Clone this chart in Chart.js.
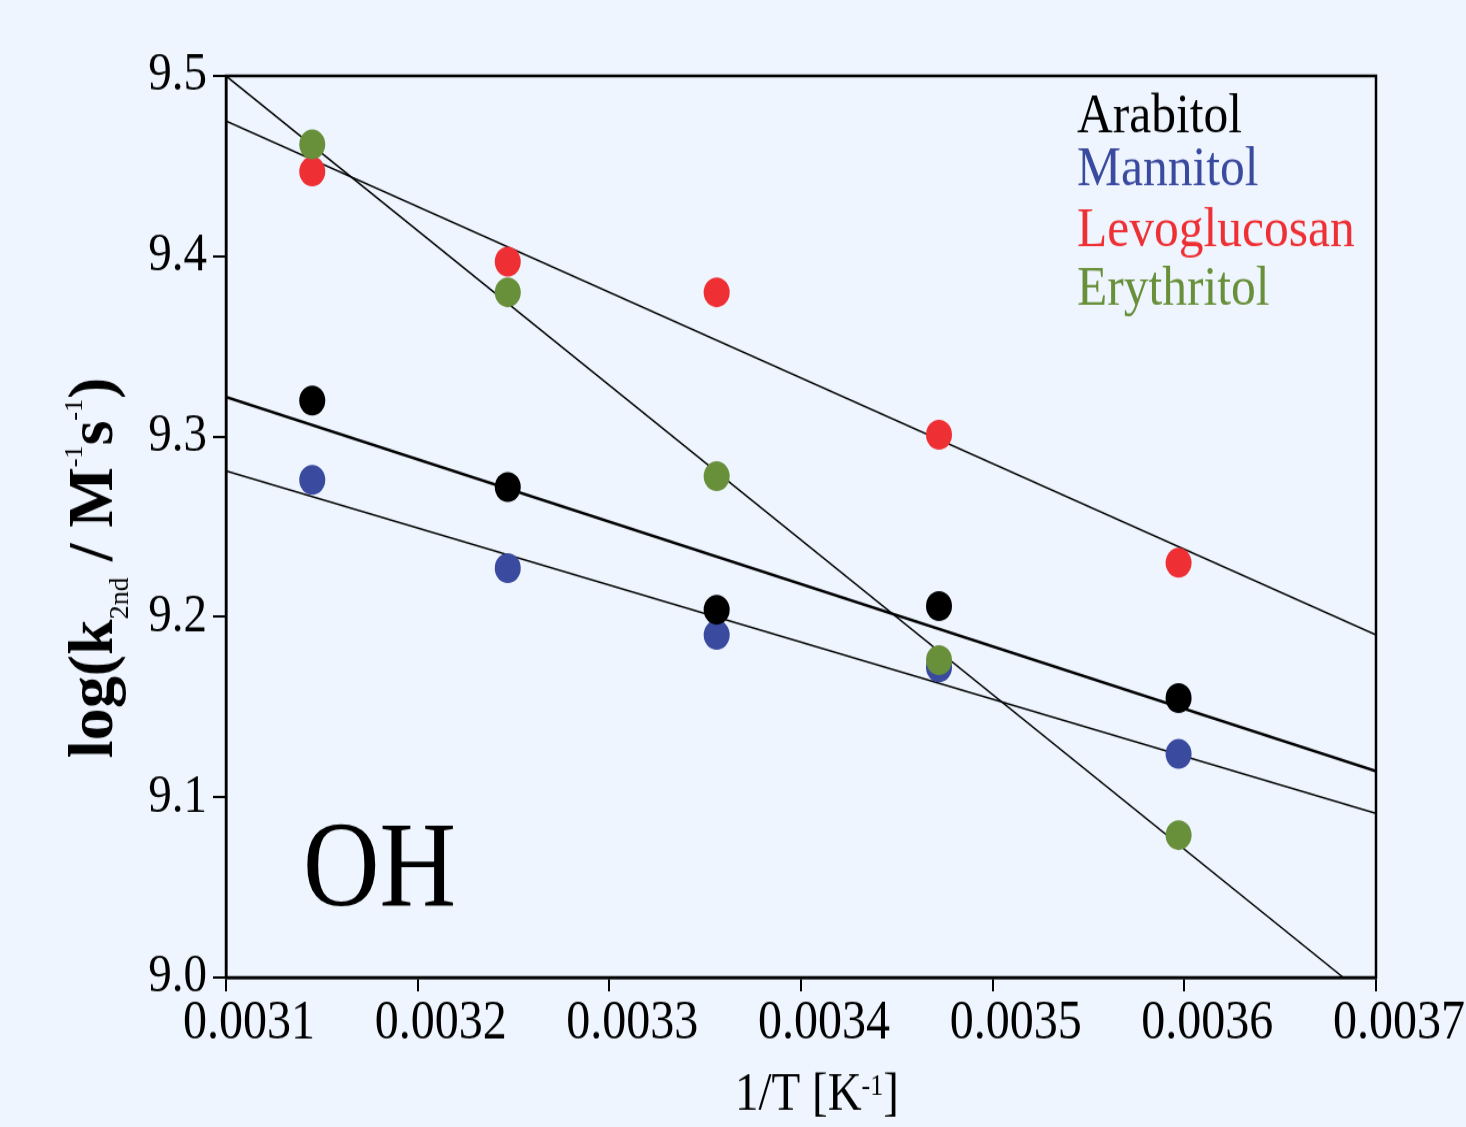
<!DOCTYPE html>
<html>
<head>
<meta charset="utf-8">
<script src="https://cdn.jsdelivr.net/npm/chart.js@4"></script>
<style>
  html, body { margin: 0; padding: 0; background: #EEF5FE; overflow: hidden; }
  #chart { display: block; }
</style>
</head>
<body>
<canvas id="chart" width="1466" height="980" style="width:1466px;height:1127px"></canvas>
<script>
// data
const invT = [0.003145, 0.003247, 0.003356, 0.003472, 0.003597];
const arabitol = [9.320, 9.272, 9.204, 9.206, 9.155];
const mannitol = [9.276, 9.227, 9.190, 9.172, 9.124];
const levoglucosan = [9.447, 9.397, 9.380, 9.301, 9.230];
const erythritol = [9.462, 9.380, 9.278, 9.176, 9.079];

// fitted lines (end points)
const fitX = [0.0031, 0.0037];
const arabitolFit = [9.322, 9.1145];
const mannitolFit = [9.281, 9.091];
const levoglucosanFit = [9.475, 9.190];
const erythritolFitX = [0.0031, 0.003683];
const erythritolFit = [9.5, 9.0];

const xTicks = [0.0031, 0.0032, 0.0033, 0.0034, 0.0035, 0.0036, 0.0037];
const yTicks = [9.0, 9.1, 9.2, 9.3, 9.4, 9.5];

const names = ['Arabitol', 'Mannitol', 'Levoglucosan', 'Erythritol'];
const colors = ['#000000', '#3A4A9E', '#EE3035', '#68903A'];

// picture is stretched vertically by this factor
const SY = 1.15;
const serif = '"Liberation Serif", "Times New Roman", serif';

function pts(xs, ys) {
    return xs.map((x, i) => ({ x: x, y: ys[i] }));
}

function dotSet(label, values, color, order) {
    return {
        label: label,
        data: pts(invT, values),
        showLine: false,
        pointRadius: 13,
        pointHoverRadius: 13,
        pointBackgroundColor: color,
        pointBorderWidth: 0,
        order: order
    };
}

function fitSet(xs, ys, width) {
    return {
        data: pts(xs, ys),
        showLine: true,
        borderColor: '#000',
        borderWidth: width,
        pointRadius: 0,
        order: 10
    };
}

// background, frame and all the texts
const decor = {
    id: 'decor',
    beforeDraw(chart) {
        const c = chart.ctx;
        c.save();
        c.fillStyle = '#EEF5FE';
        c.fillRect(0, 0, chart.width, chart.height);
        c.restore();
    },
    afterDraw(chart) {
        const c = chart.ctx;
        const a = chart.chartArea;
        c.save();
        c.strokeStyle = '#000';
        c.lineWidth = 2.5;
        c.strokeRect(a.left, a.top, a.right - a.left, a.bottom - a.top);

        // legend as coloured text
        c.font = '49.5px ' + serif;
        c.textBaseline = 'alphabetic';
        c.textAlign = 'left';
        const legY = [131.7, 185, 245.7, 305];
        names.forEach((n, i) => {
            c.fillStyle = colors[i];
            c.fillText(n, 1077, legY[i] / SY);
        });

        c.fillStyle = '#000';
        c.font = '106px ' + serif;
        c.fillText('OH', 303, 905 / SY);

        // x title
        let x = 735;
        const by = 1110 / SY;
        c.font = '47px ' + serif;
        c.fillText('1/T [K', x, by);
        x += c.measureText('1/T [K').width;
        c.font = '26px ' + serif;
        c.fillText('-1', x, by - 13);
        x += c.measureText('-1').width;
        c.font = '47px ' + serif;
        c.fillText(']', x, by);

        // y title, rotated
        c.translate(112, 758 / SY);
        c.rotate(-Math.PI / 2);
        c.scale(1 / SY, 1);
        const parts = [
            ['log(k', 'bold 64px', 0],
            ['2nd', '28px', 16],
            [' / M', 'bold 64px', 0],
            ['-1', '26px', -30],
            ['s', 'bold 64px', 0],
            ['-1', '26px', -30],
            [')', 'bold 64px', 0]
        ];
        let px = 0;
        parts.forEach(p => {
            c.font = p[1] + ' ' + serif;
            c.fillText(p[0], px, p[2]);
            px += c.measureText(p[0]).width;
        });
        c.restore();
    }
};

new Chart(document.getElementById('chart'), {
    type: 'scatter',
    data: {
        datasets: [
            dotSet(names[0], arabitol, colors[0], 3),
            dotSet(names[1], mannitol, colors[1], 4),
            dotSet(names[2], levoglucosan, colors[2], 2),
            dotSet(names[3], erythritol, colors[3], 1),
            fitSet(fitX, arabitolFit, 2.5),
            fitSet(fitX, mannitolFit, 1.5),
            fitSet(fitX, levoglucosanFit, 1.5),
            fitSet(erythritolFitX, erythritolFit, 1.5)
        ]
    },
    options: {
        responsive: false,
        animation: false,
        devicePixelRatio: 1,
        layout: { padding: { top: 66, right: 90, left: 0, bottom: 0 } },
        plugins: {
            legend: { display: false },
            tooltip: { enabled: false }
        },
        scales: {
            x: {
                type: 'linear',
                min: 0.0031,
                max: 0.0037,
                afterFit(s) { s.height = 130; },
                afterBuildTicks(s) { s.ticks = xTicks.map(v => ({ value: v })); },
                ticks: {
                    color: '#000',
                    padding: 0,
                    labelOffset: 23,
                    font: { family: serif, size: 48 },
                    callback: v => v.toFixed(4)
                },
                grid: {
                    drawOnChartArea: false,
                    drawTicks: true,
                    tickLength: 12,
                    color: '#000',
                    lineWidth: 2
                },
                border: { display: true, color: '#000', width: 2.5 }
            },
            y: {
                type: 'linear',
                min: 9.0,
                max: 9.5,
                afterFit(s) { s.width = 226; },
                afterBuildTicks(s) { s.ticks = yTicks.map(v => ({ value: v })); },
                ticks: {
                    color: '#000',
                    padding: 6,
                    font: { family: serif, size: 47 },
                    callback: v => v.toFixed(1)
                },
                grid: {
                    drawOnChartArea: false,
                    drawTicks: true,
                    tickLength: 13,
                    color: '#000',
                    lineWidth: 2
                },
                border: { display: true, color: '#000', width: 2.5 }
            }
        }
    },
    plugins: [decor]
});
</script>
</body>
</html>
